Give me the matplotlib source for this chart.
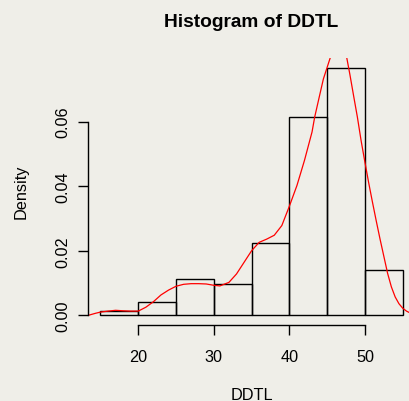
import numpy as np
import matplotlib.pyplot as plt

# histogram of DDTL (density scale), bins of width 5
bin_left = [15, 20, 25, 30, 35, 40, 45, 50]
density = [0.00124, 0.00403, 0.01125, 0.0097, 0.0225, 0.0614, 0.0766, 0.01404]
bin_width = 5

# kernel density curve
kde_x = [13.4, 14.3, 15, 16, 17, 18, 19, 20, 21, 22, 23, 24, 25, 26, 27, 28, 29,
         30, 30.8, 32, 33, 34, 35, 36, 37, 38, 39, 40, 41, 42, 43, 43.35, 44,
         44.5, 45.4, 46, 46.5, 47, 47.6, 48, 48.5, 49, 49.5, 50, 50.5, 51, 51.5,
         52, 52.5, 53, 53.5, 54, 54.5, 55, 55.5, 56, 56.6]
kde_y = [0.0, 0.0006, 0.0010, 0.0013, 0.00155, 0.0014, 0.0013, 0.0013, 0.0025,
         0.0042, 0.0063, 0.0078, 0.0090, 0.0096, 0.0098, 0.0098, 0.0097, 0.0093,
         0.0091, 0.0102, 0.0128, 0.0164, 0.0200, 0.0226, 0.0236, 0.0248, 0.0278,
         0.0338, 0.0402, 0.0480, 0.0568, 0.0614, 0.0681, 0.0732, 0.0797, 0.0840,
         0.0855, 0.0845, 0.0797, 0.0747, 0.0680, 0.0614, 0.0540, 0.0474, 0.0410,
         0.0350, 0.0292, 0.0236, 0.0183, 0.0130, 0.0088, 0.0057, 0.0036, 0.0022,
         0.0013, 0.0007, 0.0004]

xticks = [20, 30, 40, 50]
yticks = [0.0, 0.02, 0.04, 0.06]
ytick_labels = ['0.00', '0.02', '0.04', '0.06']

plt.rcParams['font.family'] = ['Liberation Sans', 'DejaVu Sans']

W, H = 410, 402
fig = plt.figure(figsize=(W / 100, H / 100), dpi=100)
fig.patch.set_facecolor('#efeee8')

# plot region in pixels (R style, runs slightly past the right edge)
left_px, right_px, top_px, bottom_px = 88.4, 414.8, 59.1, 326.2
ax = fig.add_axes([left_px / W, 1 - bottom_px / H,
                   (right_px - left_px) / W, (bottom_px - top_px) / H])
ax.set_facecolor('none')

ax.bar(bin_left, density, width=bin_width, align='edge', fill=False,
       edgecolor='black', linewidth=1.0)
ax.plot(kde_x, kde_y, color='red', linewidth=0.9)

# R adds 4% on both sides of the data range
xmin, xmax = 15, 55
ymax = max(density)
ax.set_xlim(xmin - 0.04 * (xmax - xmin), xmax + 0.04 * (xmax - xmin))
ax.set_ylim(-0.04 * ymax, ymax * 1.04)

for side in ['top', 'right']:
    ax.spines[side].set_visible(False)
ax.spines['left'].set_bounds(yticks[0], yticks[-1])
ax.spines['bottom'].set_bounds(xticks[0], xticks[-1])
ax.spines['left'].set_linewidth(1.0)
ax.spines['bottom'].set_linewidth(1.0)

ax.set_xticks(xticks)
ax.set_xticklabels([str(t) for t in xticks], fontsize=11.7)
ax.set_yticks(yticks)
ax.set_yticklabels(ytick_labels, fontsize=11.7, rotation=90, va='center')
ax.tick_params(axis='x', direction='out', length=6.9, width=1.0, pad=10.5)
ax.tick_params(axis='y', direction='out', length=6.9, width=1.0, pad=6.3)

fig.text(251.6 / W, 1 - 26.7 / H, 'Histogram of DDTL', ha='center', va='baseline',
         fontsize=13.8, fontweight='bold')
fig.text(252 / W, 1 - 400.3 / H, 'DDTL', ha='center', va='baseline', fontsize=11.7)
fig.text(21 / W, 1 - 191.7 / H, 'Density', ha='center', va='center',
         rotation=90, fontsize=11.7)

fig.savefig('out.png', dpi=100, facecolor=fig.get_facecolor())
